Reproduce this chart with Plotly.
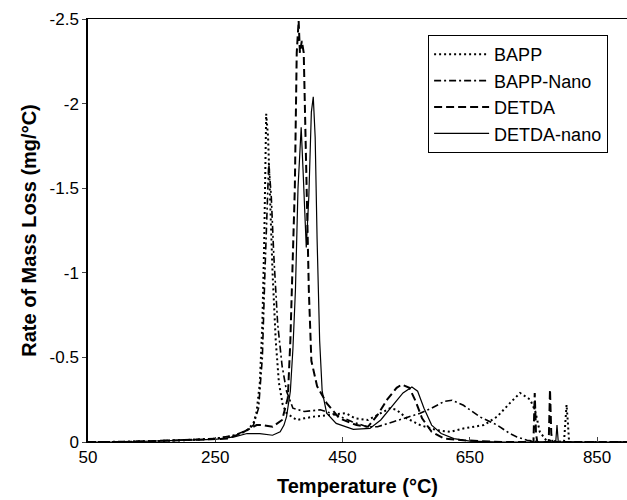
import plotly.graph_objects as go

# Temperature (°C) and rate of mass loss (mg/°C)
bapp_t = [50, 100, 150, 200, 250, 270, 290, 300, 310, 315, 320, 324, 327, 330, 333, 336, 340, 345, 350, 356, 362, 370, 378, 390, 405, 430, 455, 470, 490, 510, 525, 535, 551, 572, 598, 619, 640, 672, 693, 713, 729, 745, 753, 760, 770, 798, 800, 802, 804, 806, 830, 860, 897]
bapp_v = [0, 0, -0.005, -0.01, -0.02, -0.03, -0.05, -0.07, -0.11, -0.18, -0.35, -0.7, -1.2, -1.94, -1.8, -1.45, -1.0, -0.6, -0.35, -0.22, -0.17, -0.15, -0.13, -0.14, -0.15, -0.16, -0.17, -0.14, -0.13, -0.17, -0.2, -0.19, -0.14, -0.1, -0.07, -0.06, -0.08, -0.1, -0.15, -0.23, -0.29, -0.25, -0.18, -0.06, -0.01, 0, -0.15, -0.22, -0.12, 0, 0, 0, 0]

bappn_t = [50, 150, 250, 280, 300, 310, 318, 324, 328, 331, 334, 338, 342, 348, 355, 362, 372, 390, 415, 440, 465, 488, 505, 530, 555, 572, 590, 610, 622, 640, 666, 693, 713, 724, 740, 760, 800, 897]
bappn_v = [0, -0.005, -0.02, -0.04, -0.07, -0.1, -0.2, -0.5, -1.0, -1.4, -1.65, -1.45, -1.1, -0.7, -0.45, -0.3, -0.2, -0.18, -0.19, -0.16, -0.12, -0.09, -0.09, -0.12, -0.15, -0.17, -0.2, -0.24, -0.247, -0.217, -0.148, -0.1, -0.05, -0.03, -0.01, 0, 0, 0]

detda_t = [50, 100, 150, 200, 250, 270, 290, 305, 315, 325, 340, 355, 364, 368, 372, 375, 378, 381, 383, 386, 389, 391, 394, 397, 401, 410, 425, 445, 472, 490, 505, 520, 535, 543, 555, 565, 575, 590, 610, 640, 700, 750, 752, 754, 756, 774, 776, 778, 780, 897]
detda_v = [0, 0, -0.005, -0.01, -0.015, -0.02, -0.05, -0.08, -0.1, -0.1, -0.09, -0.13, -0.26, -0.6, -1.1, -1.5, -2.3, -2.49, -2.3, -2.37, -2.3, -1.9, -1.45, -0.9, -0.48, -0.33, -0.23, -0.14, -0.1, -0.09, -0.16, -0.25, -0.32, -0.34, -0.32, -0.24, -0.14, -0.06, -0.02, -0.01, 0, 0, -0.29, -0.05, 0, 0, -0.31, -0.05, 0, 0]

detdan_t = [50, 100, 150, 200, 250, 280, 300, 320, 340, 352, 358, 362, 368, 372, 376, 380, 385, 388, 393, 397, 401, 404, 407, 410, 414, 418, 425, 440, 457, 467, 480, 493, 510, 530, 545, 559, 568, 578, 590, 605, 625, 650, 700, 785, 787, 789, 897]
detdan_v = [0, 0, -0.005, -0.01, -0.015, -0.03, -0.05, -0.05, -0.04, -0.06, -0.1, -0.15, -0.3, -0.55, -0.9, -1.5, -1.86, -1.6, -1.15, -1.45, -1.95, -2.04, -1.8, -1.2, -0.6, -0.3, -0.17, -0.11, -0.09, -0.075, -0.077, -0.08, -0.13, -0.22, -0.29, -0.325, -0.3, -0.2, -0.1, -0.05, -0.02, -0.005, 0, 0, -0.1, 0, 0]

x_ticks = [50, 250, 450, 650, 850]
y_ticks = [0, -0.5, -1, -1.5, -2, -2.5]
y_tick_text = ["0", "-0.5", "-1", "-1.5", "-2", "-2.5"]

series = [
    ("BAPP", bapp_t, bapp_v, "2px,3px", 2.0),
    ("BAPP-Nano", bappn_t, bappn_v, "7px,3px,2px,3px", 1.6),
    ("DETDA", detda_t, detda_v, "8px,4px", 2.0),
    ("DETDA-nano", detdan_t, detdan_v, "solid", 1.2),
]

fig = go.Figure()
for name, t, v, dash, w in series:
    fig.add_trace(go.Scatter(x=t, y=v, mode="lines", name=name, legendgroup=name,
                             line=dict(color="black", width=w, dash=dash)))

font = "Liberation Sans, Arial, sans-serif"
fig.update_layout(
    width=627, height=500,
    margin=dict(l=88, r=0, t=19, b=58, autoexpand=False),
    paper_bgcolor="white", plot_bgcolor="white",
    font=dict(family=font, size=17, color="black"),
    showlegend=True,
    legend=dict(x=0.631, y=0.962, xanchor="left", yanchor="top",
                bordercolor="black", borderwidth=1, bgcolor="white",
                font=dict(size=18), tracegroupgap=0, itemwidth=55),
    xaxis=dict(range=[50, 897], tickvals=x_ticks, ticks="inside", ticklen=5,
               showline=True, linecolor="black", linewidth=1, mirror=True,
               showgrid=False, zeroline=False, automargin=False,
               title=dict(text="<b>Temperature (°C)</b>", font=dict(size=20), standoff=12)),
    yaxis=dict(range=[0, -2.5], tickvals=y_ticks, ticktext=y_tick_text, ticks="outside",
               ticklen=4, showline=True, linecolor="black", linewidth=1.5,
               showgrid=False, zeroline=False, automargin=False,
               title=dict(text="<b>Rate of Mass Loss (mg/°C)</b>", font=dict(size=20), standoff=8)),
)

fig.write_html("out.html", config={"displayModeBar": False},
               post_script="document.body.style.margin='0';document.body.style.overflow='hidden';")
